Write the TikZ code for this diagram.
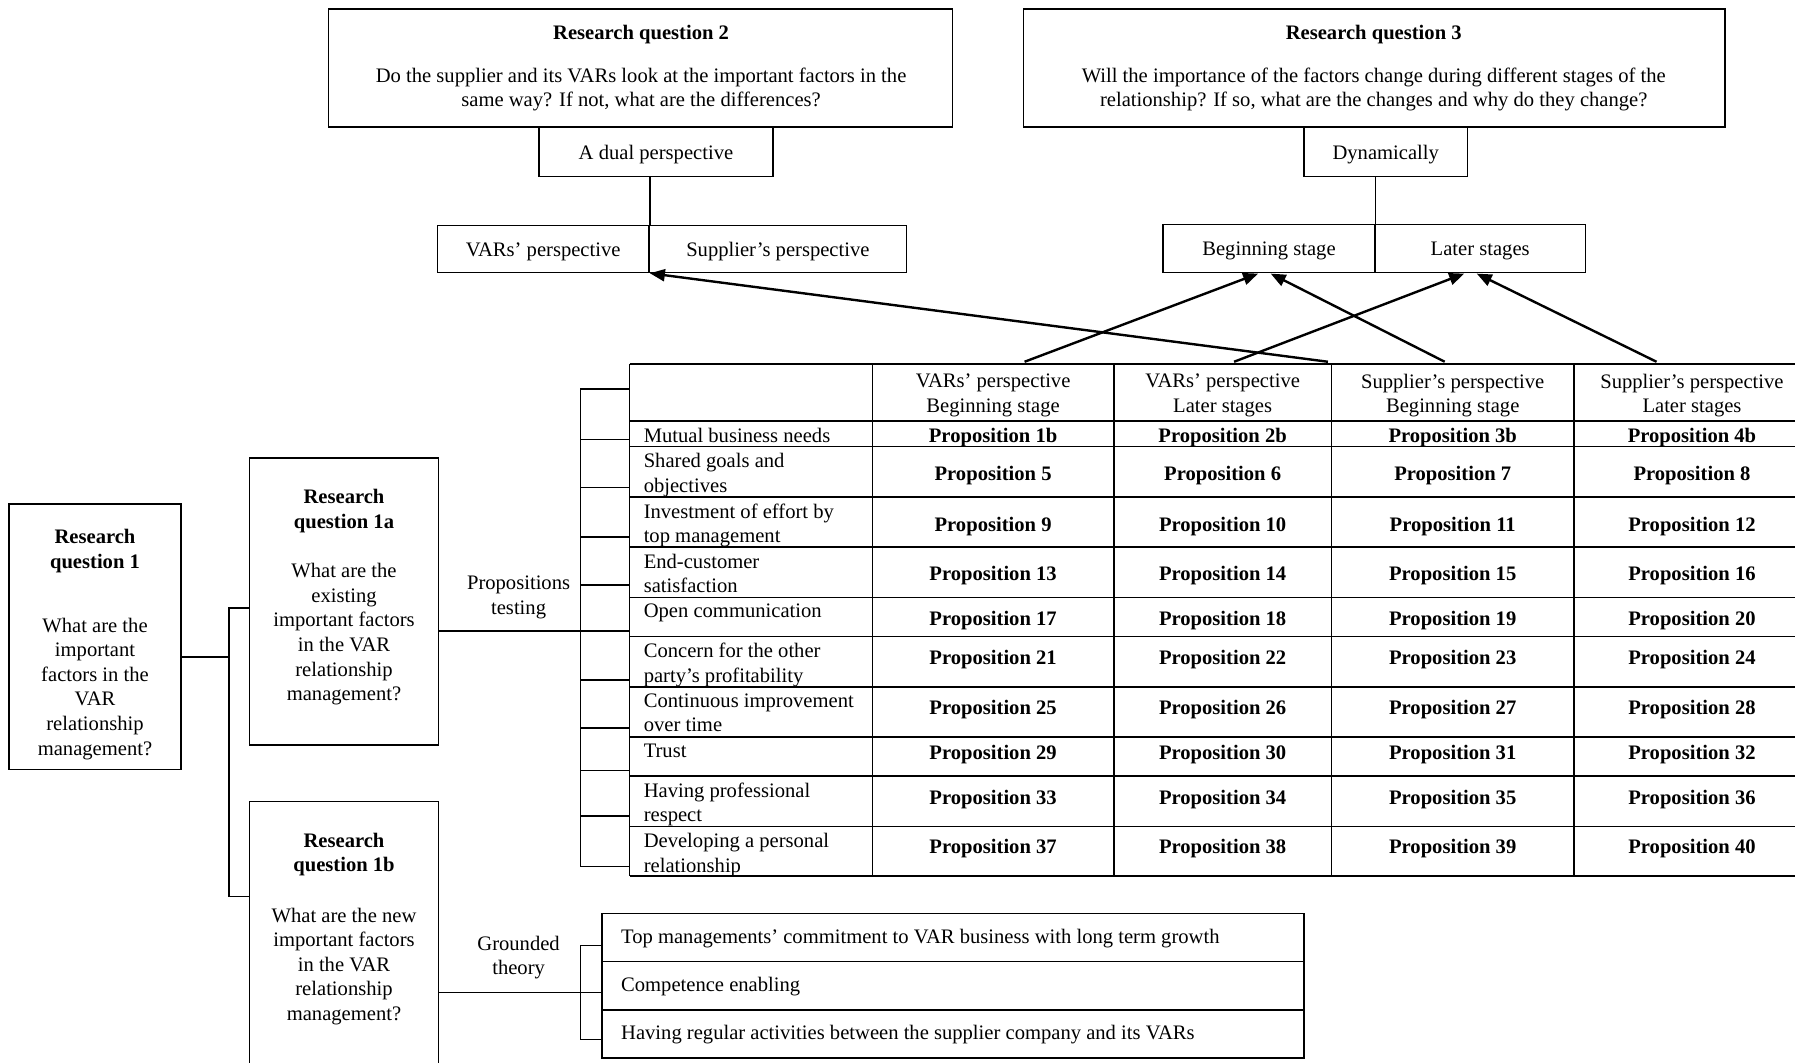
\documentclass[tikz,border=0pt]{standalone}
\usepackage{fontspec}
\setmainfont{Liberation Serif}
\usetikzlibrary{fit,arrows.meta}

\tikzset{
  box/.style={draw, line width=0.8pt, inner sep=0pt},
  txt/.style={inner sep=0pt, align=center, yshift=-1.2pt, font=\fontsize{10.3}{12.3}\selectfont},
  hd/.style={txt, font=\fontsize{10.3}{12.3}\selectfont\bfseries},
  lbl/.style={inner sep=0pt, align=left, anchor=north west, font=\fontsize{10.3}{12.3}\selectfont},
  link/.style={line width=0.8pt},
  pointer/.style={line width=1.2pt, -{Triangle[length=7.5pt,width=6pt]}},
}

\begin{document}
\begin{tikzpicture}[x=0.5724pt, y=-0.5724pt]
\useasboundingbox (0,0) rectangle (1568,928);

% research question 2 and the two perspectives
\node[box, fit={(287,8) (832,111)}] (rq2) {};
\node[hd] (rq2t) at (560,28) {Research question 2};
\node[txt] (rq2q) at (560,76) {Do the supplier and its VARs look at the important factors in the\\same way? If not, what are the differences?};
\node[box, fit={(471,111) (675,154)}] (dual) {};
\node[txt] at (dual.center) {A dual perspective};
\node[box, fit={(382,197) (567,238)}] (varsp) {};
\node[txt] at (varsp.center) {VARs' perspective};
\node[box, fit={(567,197) (792,238)}] (supp) {};
\node[txt] at (supp.center) {Supplier's perspective};
\draw[link] (dual.south -| varsp.east) -- (varsp.north east);

% research question 3 and the stages
\node[box, fit={(894,8) (1507,111)}] (rq3) {};
\node[hd] (rq3t) at (1200,28) {Research question 3};
\node[txt] (rq3q) at (1200,76) {Will the importance of the factors change during different stages of the\\relationship? If so, what are the changes and why do they change?};
\node[box, fit={(1139,111) (1282,154)}] (dyn) {};
\node[txt] at (dyn.center) {Dynamically};
\node[box, fit={(1016,196) (1201,238)}] (beg) {};
\node[txt] at (beg.center) {Beginning stage};
\node[box, fit={(1201,196) (1385,238)}] (later) {};
\node[txt] at (later.center) {Later stages};
\draw[link] (dyn.south -| beg.east) -- (beg.north east);

% research question 1
\node[box, fit={(8,440) (158,672)}] (rq1) {};
\node[hd] at (83,479.5) {Research\\question 1};
\node[txt] at (83,599.5) {What are the\\important\\factors in the\\VAR\\relationship\\management?};
\node[box, fit={(218,400) (383,651)}] (rq1a) {};
\node[hd] at (300.5,444.5) {Research\\question 1a};
\node[txt] at (300.5,552) {What are the\\existing\\important factors\\in the VAR\\relationship\\management?};
\node[box, fit={(218,700) (383,940)}] (rq1b) {};
\node[hd] at (300.5,744.5) {Research\\question 1b};
\node[txt] at (300.5,842) {What are the new\\important factors\\in the VAR\\relationship\\management?};

\coordinate (k0) at (200,574);
\coordinate (k1) at (200,531);
\coordinate (k2) at (200,783);
\draw[link] (k0 -| rq1.east) -- (k0);
\draw[link] (k1 -| rq1a.west) -- (k1) -- (k2) -- (k2 -| rq1b.west);

% propositions table
\foreach \x in {550,762,973,1163,1375}
  \draw[link] (\x,318) -- (\x,765);
\foreach \y in {318,368,390,434,478,522,556,600,644,678,722,765}
  \draw[link] (550,\y) -- (1568,\y);
\foreach \x/\a/\b [count=\i] in {867.5/VARs' perspective/Beginning stage,
    1068/VARs' perspective/Later stages,
    1269/Supplier's perspective/Beginning stage,
    1478/Supplier's perspective/Later stages}
  \node[txt] (h\i) at (\x,343.5) {\a\\\b};
\foreach \ty/\lab [count=\r] in {368/Mutual business needs,
    390/Shared goals and\\objectives,
    434/Investment of effort by\\top management,
    478/End-customer\\satisfaction,
    522/Open communication,
    556/Concern for the other\\party's profitability,
    600/Continuous improvement\\over time,
    644/Trust,
    678/Having professional\\respect,
    722/Developing a personal\\relationship}
  \node[lbl] (f\r) at (562,\ty+5.5) {\lab};
\foreach \yp [count=\r] in {379,412,457,500,539,573,617,656,695,738}
  \foreach \x [count=\c] in {867.5,1068,1269,1478} {
    \pgfmathtruncatemacro\pn{4*(\r-1)+\c}
    \ifnum\r=1 \edef\pn{\c b}\fi
    \node[hd] (p\r-\c) at (\x,\yp+1) {Proposition \pn};
  }

% bracket to the table
\draw[link] (507,340) -- (507,757);
\foreach \y in {340,384,426,469,511,551,594,636,673,713,757}
  \draw[link] (507,\y) -- (550,\y);
\coordinate (pt) at (507,551);
\draw[link] (pt -| rq1a.east) -- (pt);
\node[txt] (ptxt) at (453,519.5) {Propositions\\testing};

% grounded theory factors
\foreach \ya/\yb/\lab [count=\g] in {798/840/Top managements' commitment to VAR business with long term growth,
    840/882/Competence enabling,
    882/924/Having regular activities between the supplier company and its VARs} {
  \node[box, fit={(526,\ya) (1139,\yb)}] (g\g) {};
  \node[txt, anchor=west] at ([xshift=9.7pt, yshift=0.6pt]g\g.west) {\lab};
}
\coordinate (gt) at (507,826);
\coordinate (gb) at (507,908);
\coordinate (gj) at (507,867);
\draw[link] (gt -| g1.west) -- (gt) -- (gb) -- (gb -| g3.west);
\draw[link] (gj -| rq1b.east) -- (gj -| g2.west);
\node[txt] (gtxt) at (453,834.5) {Grounded\\theory};

% arrows from the table columns
\coordinate (a1) at (895,316);
\coordinate (a2) at (1078,316);
\coordinate (a3) at (1160,316);
\coordinate (a4) at (1262,316);
\coordinate (a5) at (1447,316);
\coordinate (b1) at (1099,239);
\coordinate (b2) at (1110,239);
\coordinate (l1) at (1279,239);
\coordinate (l2) at (1290,239);
\draw[pointer] (a1) -- (b1);
\draw[pointer] (a2) -- (l1);
\draw[pointer] (a3) -- (varsp.south east);
\draw[pointer] (a4) -- (b2);
\draw[pointer] (a5) -- (l2);
\end{tikzpicture}
\end{document}
